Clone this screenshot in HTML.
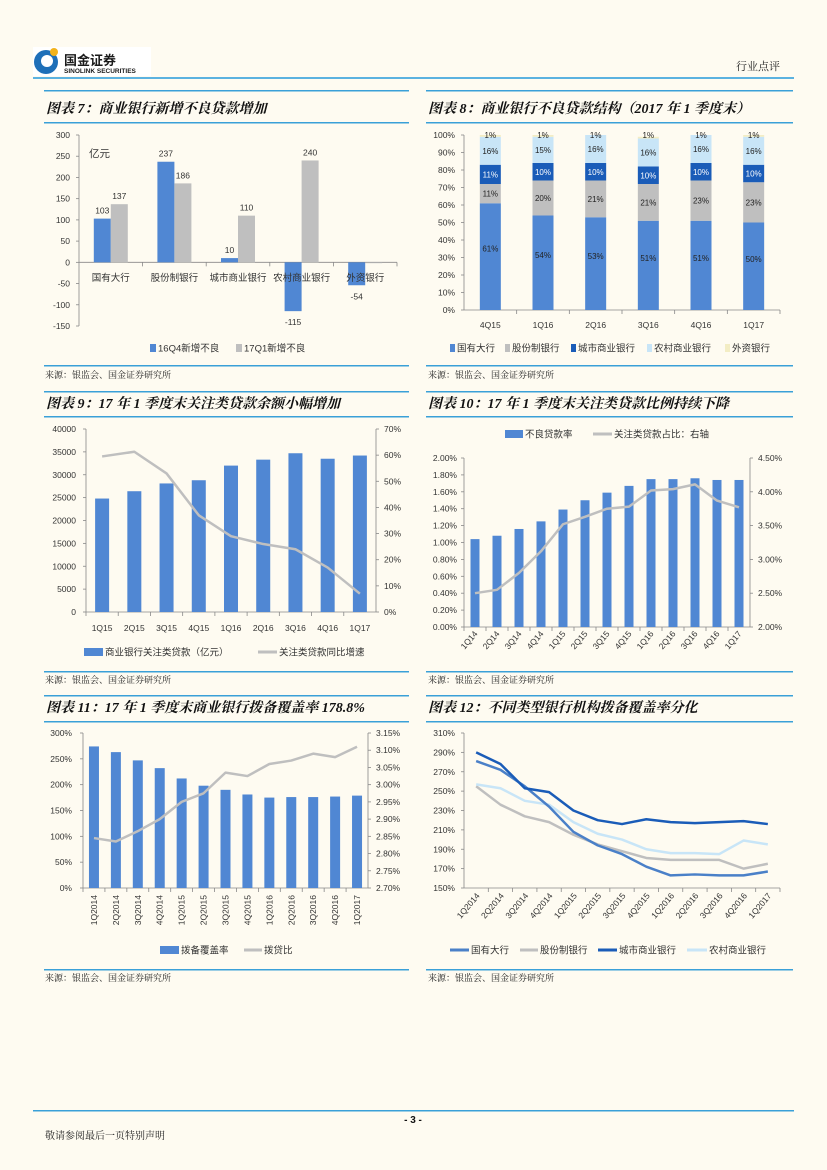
<!DOCTYPE html>
<html><head><meta charset="utf-8">
<style>
html,body{margin:0;padding:0;background:#fefbf1;}
svg{display:block;font-family:"Liberation Sans","Noto Sans CJK SC",sans-serif;}
.t{font-size:14px;font-weight:bold;font-style:italic;fill:#111;font-family:"Liberation Serif","Noto Serif CJK SC",serif;}
.src{font-size:9px;fill:#222;font-family:"Liberation Serif","Noto Serif CJK SC",serif;}
.tk{font-size:8.5px;fill:#333;}
.lg{font-size:9.5px;fill:#333;}
</style></head>
<body>
<svg id="page" xmlns="http://www.w3.org/2000/svg" width="827" height="1170" viewBox="0 0 827 1170">
<rect x="0" y="0" width="827" height="1170" fill="#fefbf1"/>
<g>
  <rect x="33" y="47" width="118" height="29" fill="#ffffff"/>
  <circle cx="46" cy="62" r="12" fill="#1e6fb8"/>
  <circle cx="47" cy="61" r="6" fill="#fff"/>
  <circle cx="54" cy="52" r="4" fill="#f2b21b"/>
  <text x="64" y="65" font-size="13" font-weight="bold" fill="#1a1a1a">国金证券</text>
  <text x="64" y="73" font-size="6.5" font-weight="bold" fill="#1a1a1a">SINOLINK SECURITIES</text>
  <text x="736" y="70" font-size="11" fill="#444" class="src" style="font-size:11px">行业点评</text>
  <rect x="33" y="77" width="761" height="2" fill="#5bb2e0"/>
</g>
<g>
  <text class="t" x="46" y="113">图表 7：商业银行新增不良贷款增加</text>
  <text class="t" x="428" y="113">图表 8：商业银行不良贷款结构（2017 年 1 季度末）</text>
  <text class="t" x="46" y="408">图表 9：17 年 1 季度末关注类贷款余额小幅增加</text>
  <text class="t" x="428" y="408">图表 10：17 年 1 季度末关注类贷款比例持续下降</text>
  <text class="t" x="46" y="712">图表 11：17 年 1 季度末商业银行拨备覆盖率 178.8%</text>
  <text class="t" x="428" y="712">图表 12：不同类型银行机构拨备覆盖率分化</text>
</g>
<g id="rules"></g>
<g>
  <text class="src" x="45" y="378">来源：银监会、国金证券研究所</text>
  <text class="src" x="428" y="378">来源：银监会、国金证券研究所</text>
  <text class="src" x="45" y="683">来源：银监会、国金证券研究所</text>
  <text class="src" x="428" y="683">来源：银监会、国金证券研究所</text>
  <text class="src" x="45" y="981">来源：银监会、国金证券研究所</text>
  <text class="src" x="428" y="981">来源：银监会、国金证券研究所</text>
</g>
<g>
  <rect x="33" y="1110" width="761" height="1.5" fill="#3aa0d8"/>
  <text x="413" y="1123" text-anchor="middle" font-size="10" font-weight="bold" fill="#111">- 3 -</text>
  <text class="src" x="45" y="1139" style="font-size:10px">敬请参阅最后一页特别声明</text>
</g>
<g id="charts"></g>
</svg>
<script>
// ---- Chart 7 data ----
const c7Categories = ['国有大行','股份制银行','城市商业银行','农村商业银行','外资银行'];
const c7Q4 = [103, 237, 10, -115, -54];
const c7Q1 = [137, 186, 110, 240, -2];
const c7Ticks = [300,250,200,150,100,50,0,-50,-100,-150];
// ---- Chart 8 data ----
const c8Categories = ['4Q15','1Q16','2Q16','3Q16','4Q16','1Q17'];
const c8State = [61,54,53,51,51,50];
const c8Joint = [11,20,21,21,23,23];
const c8City = [11,10,10,10,10,10];
const c8Rural = [16,15,16,16,16,16];
const c8Foreign = [1,1,1,1,1,1];
const c8Ticks = [0,10,20,30,40,50,60,70,80,90,100];
// ---- Chart 9 data ----
const c9Categories = ['1Q15','2Q15','3Q15','4Q15','1Q16','2Q16','3Q16','4Q16','1Q17'];
const c9Balance = [24800,26400,28100,28800,32000,33300,34700,33500,34200];
const c9Growth = [59.5,61.3,53,37,29,26,24,17,7];
const c9LeftTicks = [0,5000,10000,15000,20000,25000,30000,35000,40000];
const c9RightTicks = [0,10,20,30,40,50,60,70];
// ---- Chart 10 data ----
const c10Categories = ['1Q14','2Q14','3Q14','4Q14','1Q15','2Q15','3Q15','4Q15','1Q16','2Q16','3Q16','4Q16','1Q17'];
const c10NplRatio = [1.04,1.08,1.16,1.25,1.39,1.50,1.59,1.67,1.75,1.75,1.76,1.74,1.74];
const c10Special = [2.50,2.55,2.80,3.12,3.52,3.63,3.75,3.78,4.02,4.04,4.11,3.87,3.77];
const c10LeftTicks = [0,0.2,0.4,0.6,0.8,1.0,1.2,1.4,1.6,1.8,2.0];
const c10RightTicks = [2.0,2.5,3.0,3.5,4.0,4.5];
// ---- Chart 11 data ----
const c11Categories = ['1Q2014','2Q2014','3Q2014','4Q2014','1Q2015','2Q2015','3Q2015','4Q2015','1Q2016','2Q2016','3Q2016','4Q2016','1Q2017'];
const c11Coverage = [274,263,247,232,212,198,190,181,175,176,176,177,178.8];
const c11LoanRatio = [2.845,2.835,2.865,2.90,2.95,2.975,3.035,3.025,3.06,3.07,3.09,3.08,3.11];
const c11LeftTicks = [0,50,100,150,200,250,300];
const c11RightTicks = [2.70,2.75,2.80,2.85,2.90,2.95,3.00,3.05,3.10,3.15];
// ---- Chart 12 data ----
const c12Categories = ['1Q2014','2Q2014','3Q2014','4Q2014','1Q2015','2Q2015','3Q2015','4Q2015','1Q2016','2Q2016','3Q2016','4Q2016','1Q2017'];
const c12State = [281,272,255,234,208,194,185,172,163,164,163,163,167];
const c12Joint = [255,236,224,218,205,195,188,181,179,179,179,170,175];
const c12City = [290,278,253,249,230,220,216,221,218,217,218,219,216];
const c12Rural = [257,253,240,236,218,206,200,190,186,186,185,199,195];
const c12Ticks = [150,170,190,210,230,250,270,290,310];

const NS='http://www.w3.org/2000/svg';
const root=document.getElementById('charts');
function mk(tag,attrs,parent){const e=document.createElementNS(NS,tag);for(const k in attrs)e.setAttribute(k,attrs[k]);(parent||root).appendChild(e);return e;}
function txt(s,attrs,parent){const e=mk('text',attrs,parent);e.textContent=s;return e;}
function lin(a,b){return v=>a[1]+(v-a[0])*(b[1]-a[1])/(b[0]-a[0]);}

const BLUE='#5087d3', GRAY='#bfbfbf', DBLUE='#1a5cb8', LBLUE='#c8e5f7', YEL='#f3edc4';

// section rules
const rules=document.getElementById('rules');
[[44,409],[426,793]].forEach(([x1,x2],ci)=>{
  [[90,122],[391,416],[695,721]].forEach(([a,b],ri)=>{
    [a,b].forEach((y,k)=>{
      const r=mk('rect',{x:x1,y:y,width:x2-x1,height:1.5,fill:'#3aa0d8'},rules);
      
      
    });
  });
  [365,671,969].forEach(y=>{
    const r=mk('rect',{x:x1,y:y,width:x2-x1,height:1.5,fill:'#3aa0d8'},rules);
    
    
  });
});

function axisLine(x1,y1,x2,y2,name){
  const l=mk('line',{x1:x1,y1:y1,x2:x2,y2:y2,stroke:'#888','stroke-width':0.8});
  
  
  return l;
}
function tick(s,x,y,anchor,name){
  const t=txt(s,{x:x,y:y+3,'text-anchor':anchor,class:'tk'});
  
  
  return t;
}
function legRect(x,y,w,color,label,name){
  const r=mk('rect',{x:x,y:y-4,width:w,height:8,fill:color});
  
  
  const t=txt(label,{x:x+w+2,y:y+3.5,class:'lg'});
  
  
}
function legLine(x,y,w,color,label,name){
  const l=mk('line',{x1:x,y1:y,x2:x+w,y2:y,stroke:color,'stroke-width':3});
  
  
  const t=txt(label,{x:x+w+2,y:y+3.5,class:'lg'});
  
  
}
function poly(xs,ys,color,w,name){
  const p=mk('polyline',{points:xs.map((x,i)=>x+','+ys[i]).join(' '),fill:'none',stroke:color,'stroke-width':w,'stroke-linejoin':'round'});
  
  
}

// ===== Chart 7 =====
(function(){
  const X0=79,X1=397,y=lin([300,135],[-150,326]);
  const bw=(X1-X0)/c7Categories.length;
  axisLine(X0,135,X0,326,'c7-y-axis');
  axisLine(X0,y(0),X1,y(0),'c7-x-axis');
  c7Ticks.forEach(v=>{axisLine(X0-3,y(v),X0,y(v),'c7-y-tick');tick(String(v),70,y(v),'end','c7-y-tick-label');});
  const u=txt('亿元',{x:89,y:157,class:'lg',style:'font-size:10.5px'});
  
  
  c7Categories.forEach((c,i)=>{
    const cx=X0+bw*(i+0.5);
    axisLine(X0+bw*(i+1),y(0),X0+bw*(i+1),y(0)+4,'c7-x-tick');
    [[c7Q4[i],cx-17,BLUE,'c7-bar-16q4'],[c7Q1[i],cx,GRAY,'c7-bar-17q1']].forEach(([v,x,col,nm])=>{
      const r=mk('rect',{x:x,y:Math.min(y(v),y(0)),width:17,height:Math.abs(y(v)-y(0)),fill:col});
      
      
      if(Math.abs(v)>=5){
        const ly=v>=0?y(v)-5:y(v)+14;
        const t=txt(String(v),{x:x+8.5,y:ly,'text-anchor':'middle',class:'tk'});
        
        
      }
    });
    const t=txt(c,{x:cx,y:281,'text-anchor':'middle',class:'lg',style:'font-size:9.5px'});
    
    
  });
  legRect(150,348,6,BLUE,'16Q4新增不良','c7-legend-16q4');
  legRect(236,348,6,GRAY,'17Q1新增不良','c7-legend-17q1');
})();

// ===== Chart 8 =====
(function(){
  const X0=464,X1=780,y=lin([0,310],[100,135]);
  const bw=(X1-X0)/c8Categories.length;
  axisLine(X0,135,X0,310,'c8-y-axis');
  axisLine(X0,310,X1,310,'c8-x-axis');
  c8Ticks.forEach(v=>{axisLine(X0-3,y(v),X0,y(v),'c8-y-tick');tick(v+'%',455,y(v),'end','c8-y-tick-label');});
  const series=[[c8State,BLUE,'#222','state'],[c8Joint,GRAY,'#222','joint'],[c8City,DBLUE,'#fff','city'],[c8Rural,LBLUE,'#222','rural'],[c8Foreign,YEL,'#222','foreign']];
  c8Categories.forEach((c,i)=>{
    const cx=X0+bw*(i+0.5);
    axisLine(X0+bw*(i+1),310,X0+bw*(i+1),314,'c8-x-tick');
    let acc=0;
    series.forEach(([arr,col,tc,nm])=>{
      const v=Math.min(arr[i],100-acc);
      const r=mk('rect',{x:cx-10.5,y:y(acc+v),width:21,height:y(acc)-y(acc+v),fill:col});
      
      
      const ly=nm==='foreign'?y(100)+3:nm==='state'?y(acc+v*0.55):y(acc+v/2)+3;
      const t=txt(arr[i]+'%',{x:cx,y:ly,'text-anchor':'middle',class:'tk',style:'font-size:8px;fill:'+tc});
      
      
      acc+=v;
    });
    const t=txt(c,{x:cx,y:328,'text-anchor':'middle',class:'tk'});
    
    
  });
  legRect(450,348,5,BLUE,'国有大行','c8-legend-state');
  legRect(505,348,5,GRAY,'股份制银行','c8-legend-joint');
  legRect(571,348,5,DBLUE,'城市商业银行','c8-legend-city');
  legRect(647,348,5,LBLUE,'农村商业银行','c8-legend-rural');
  legRect(725,348,5,YEL,'外资银行','c8-legend-foreign');
})();

// ===== Chart 9 =====
(function(){
  const X0=86,X1=376,yl=lin([0,612],[40000,429]),yr=lin([0,612],[70,429]);
  const bw=(X1-X0)/c9Categories.length;
  axisLine(X0,429,X0,612,'c9-left-axis');
  axisLine(X1,429,X1,612,'c9-right-axis');
  axisLine(X0,612,X1,612,'c9-x-axis');
  c9LeftTicks.forEach(v=>{axisLine(X0-3,yl(v),X0,yl(v),'c9-left-tick');tick(String(v),76,yl(v),'end','c9-left-tick-label');});
  c9RightTicks.forEach(v=>{axisLine(X1,yr(v),X1+3,yr(v),'c9-right-tick');tick(v+'%',384,yr(v),'start','c9-right-tick-label');});
  const xs=[],ys=[];
  c9Categories.forEach((c,i)=>{
    const cx=X0+bw*(i+0.5);
    axisLine(X0+bw*i,612,X0+bw*i,616,'c9-x-tick');
    const r=mk('rect',{x:cx-7,y:yl(c9Balance[i]),width:14,height:612-yl(c9Balance[i]),fill:BLUE});
    
    
    xs.push(cx);ys.push(yr(c9Growth[i]));
    const t=txt(c,{x:cx,y:631,'text-anchor':'middle',class:'tk'});
    
    
  });
  poly(xs,ys,GRAY,2.5,'c9-growth-line');
  legRect(84,652,19,BLUE,'商业银行关注类贷款（亿元）','c9-legend-balance');
  legLine(258,652,19,GRAY,'关注类贷款同比增速','c9-legend-growth');
})();

// ===== Chart 10 =====
(function(){
  const X0=464,X1=750,yl=lin([0,627],[2.0,458]),yr=lin([2.0,627],[4.5,458]);
  const bw=(X1-X0)/c10Categories.length;
  axisLine(X0,458,X0,627,'c10-left-axis');
  axisLine(X1,458,X1,627,'c10-right-axis');
  axisLine(X0,627,X1,627,'c10-x-axis');
  c10LeftTicks.forEach(v=>{axisLine(X0-3,yl(v),X0,yl(v),'c10-left-tick');tick(v.toFixed(2)+'%',457,yl(v),'end','c10-left-tick-label');});
  c10RightTicks.forEach(v=>{axisLine(X1,yr(v),X1+3,yr(v),'c10-right-tick');tick(v.toFixed(2)+'%',758,yr(v),'start','c10-right-tick-label');});
  const xs=[],ys=[];
  c10Categories.forEach((c,i)=>{
    const cx=X0+bw*(i+0.5);
    axisLine(X0+bw*i,627,X0+bw*i,631,'c10-x-tick');
    const r=mk('rect',{x:cx-4.5,y:yl(c10NplRatio[i]),width:9,height:627-yl(c10NplRatio[i]),fill:BLUE});
    
    
    xs.push(cx);ys.push(yr(c10Special[i]));
    const t=txt(c,{x:cx+3,y:634,'text-anchor':'end',class:'tk',transform:'rotate(-50 '+(cx+3)+' 634)'});
    
    
  });
  poly(xs,ys,GRAY,2.5,'c10-special-line');
  legRect(505,434,18,BLUE,'不良贷款率','c10-legend-npl');
  legLine(593,434,19,GRAY,'关注类贷款占比：右轴','c10-legend-special');
})();

// ===== Chart 11 =====
(function(){
  const X0=83,X1=368,yl=lin([0,888],[300,733]),yr=lin([2.70,888],[3.15,733]);
  const bw=(X1-X0)/c11Categories.length;
  axisLine(X0,733,X0,888,'c11-left-axis');
  axisLine(X1,733,X1,888,'c11-right-axis');
  axisLine(X0,888,X1,888,'c11-x-axis');
  c11LeftTicks.forEach(v=>{axisLine(X0-3,yl(v),X0,yl(v),'c11-left-tick');tick(v+'%',72,yl(v),'end','c11-left-tick-label');});
  c11RightTicks.forEach(v=>{axisLine(X1,yr(v),X1+3,yr(v),'c11-right-tick');tick(v.toFixed(2)+'%',376,yr(v),'start','c11-right-tick-label');});
  const xs=[],ys=[];
  c11Categories.forEach((c,i)=>{
    const cx=X0+bw*(i+0.5);
    axisLine(X0+bw*i,888,X0+bw*i,892,'c11-x-tick');
    const r=mk('rect',{x:cx-5,y:yl(c11Coverage[i]),width:10,height:888-yl(c11Coverage[i]),fill:BLUE});
    
    
    xs.push(cx);ys.push(yr(c11LoanRatio[i]));
    const t=txt(c,{x:cx+3,y:895,'text-anchor':'end',class:'tk',transform:'rotate(-90 '+(cx+3)+' 895)'});
    
    
  });
  poly(xs,ys,GRAY,2.5,'c11-loan-ratio-line');
  legRect(160,950,19,BLUE,'拨备覆盖率','c11-legend-coverage');
  legLine(244,950,18,GRAY,'拨贷比','c11-legend-loan-ratio');
})();

// ===== Chart 12 =====
(function(){
  const X0=464,X1=780,y=lin([150,888],[310,733]);
  const bw=(X1-X0)/c12Categories.length;
  axisLine(X0,733,X0,888,'c12-y-axis');
  axisLine(X0,888,X1,888,'c12-x-axis');
  c12Ticks.forEach(v=>{axisLine(X0-3,y(v),X0,y(v),'c12-y-tick');tick(v+'%',455,y(v),'end','c12-y-tick-label');});
  const xs=c12Categories.map((c,i)=>X0+bw*(i+0.5));
  c12Categories.forEach((c,i)=>{
    axisLine(X0+bw*(i+1),888,X0+bw*(i+1),892,'c12-x-tick');
    const t=txt(c,{x:xs[i]+4,y:896,'text-anchor':'end',class:'tk',transform:'rotate(-50 '+(xs[i]+4)+' 896)'});
    
    
  });
  poly(xs,c12Joint.map(y),GRAY,2.5,'c12-line-joint');
  poly(xs,c12Rural.map(y),LBLUE,2.5,'c12-line-rural');
  poly(xs,c12State.map(y),'#4a80c8',2.5,'c12-line-state');
  poly(xs,c12City.map(y),DBLUE,2.5,'c12-line-city');
  legLine(450,950,19,'#4a80c8','国有大行','c12-legend-state');
  legLine(520,950,18,GRAY,'股份制银行','c12-legend-joint');
  legLine(598,950,19,DBLUE,'城市商业银行','c12-legend-city');
  legLine(687,950,20,LBLUE,'农村商业银行','c12-legend-rural');
})();
</script>
</body></html>
